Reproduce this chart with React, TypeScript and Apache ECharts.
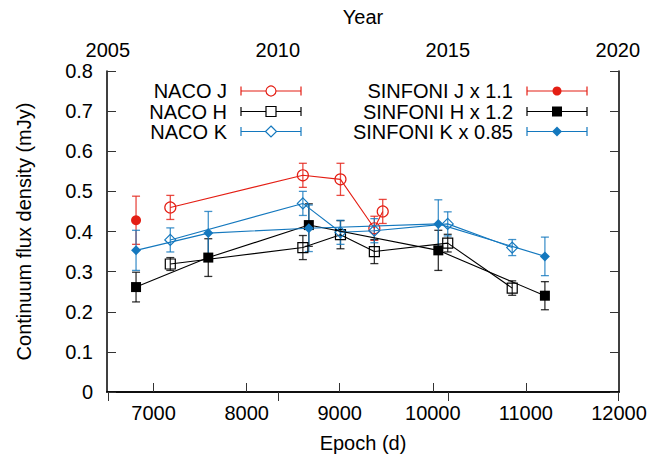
import React, { useEffect, useRef } from "react";
import * as echarts from "echarts";

// Epoch (days) of each observation, the plotted flux (mJy) and its 1-sigma error
const nacoJEpoch = [7180, 8604, 9008, 9372, 9462];
const nacoJFlux = [0.46, 0.54, 0.53, 0.408, 0.45];
const nacoJErr = [0.03, 0.03, 0.04, 0.03, 0.03];

const nacoHEpoch = [7180, 8604, 9008, 9372, 10160, 10853];
const nacoHFlux = [0.319, 0.36, 0.392, 0.35, 0.371, 0.259];
const nacoHErr = [0.016, 0.03, 0.035, 0.03, 0.022, 0.018];

const nacoKEpoch = [7180, 8604, 9008, 9372, 10160, 10853];
const nacoKFlux = [0.379, 0.47, 0.398, 0.402, 0.419, 0.36];
const nacoKErr = [0.03, 0.03, 0.03, 0.03, 0.03, 0.02];

const sinfJEpoch = [6812];
const sinfJFlux = [0.428];
const sinfJErr = [0.06];

const sinfHEpoch = [6812, 7588, 8668, 10059, 11204];
const sinfHFlux = [0.2615, 0.335, 0.416, 0.353, 0.24];
const sinfHErr = [0.037, 0.047, 0.053, 0.05, 0.035];

const sinfKEpoch = [6812, 7588, 8668, 10059, 11204];
const sinfKFlux = [0.353, 0.396, 0.408, 0.419, 0.338];
const sinfKErr = [0.05, 0.054, 0.058, 0.06, 0.048];

const epochTicks = [7000, 8000, 9000, 10000, 11000];
const epochLabels = [7000, 8000, 9000, 10000, 11000, 12000];
const yearTicks = [2005, 2010, 2015, 2020];

const EPOCH_MIN = 6500;
const EPOCH_MAX = 12000;
const YEAR_ZERO = 1987.18;
const toYear = (d: number) => YEAR_ZERO + d / 365.25;

const RED = "#e41e14";
const BLACK = "#000000";
const BLUE = "#1478be";
const FONT = "Liberation Sans, Arial, Helvetica, sans-serif";
const FS = 20;

type Spec = {
  name: string;
  epoch: number[];
  flux: number[];
  err: number[];
  color: string;
  symbol: string;
  size: number;
  open: boolean;
  z: number;
};

const specs: Spec[] = [
  { name: "NACO J", epoch: nacoJEpoch, flux: nacoJFlux, err: nacoJErr, color: RED, symbol: "circle", size: 11, open: true, z: 2 },
  { name: "NACO H", epoch: nacoHEpoch, flux: nacoHFlux, err: nacoHErr, color: BLACK, symbol: "rect", size: 10, open: true, z: 2 },
  { name: "NACO K", epoch: nacoKEpoch, flux: nacoKFlux, err: nacoKErr, color: BLUE, symbol: "diamond", size: 11, open: true, z: 2 },
  { name: "SINFONI J x 1.1", epoch: sinfJEpoch, flux: sinfJFlux, err: sinfJErr, color: RED, symbol: "circle", size: 10, open: false, z: 3 },
  { name: "SINFONI H x 1.2", epoch: sinfHEpoch, flux: sinfHFlux, err: sinfHErr, color: BLACK, symbol: "rect", size: 10, open: false, z: 3 },
  { name: "SINFONI K x 0.85", epoch: sinfKEpoch, flux: sinfKFlux, err: sinfKErr, color: BLUE, symbol: "diamond", size: 10, open: false, z: 3 },
];

function errorSeries(s: Spec) {
  return {
    type: "custom",
    name: s.name + " err",
    xAxisIndex: 0,
    yAxisIndex: 0,
    z: s.z,
    silent: true,
    data: s.epoch.map((e, i) => [e, s.flux[i] - s.err[i], s.flux[i] + s.err[i]]),
    encode: { x: 0, y: [1, 2] },
    renderItem: (_params: any, api: any) => {
      const lo = api.coord([api.value(0), api.value(1)]);
      const hi = api.coord([api.value(0), api.value(2)]);
      const w = 4;
      const style = { stroke: s.color, lineWidth: 1.3, opacity: 0.8 };
      return {
        type: "group",
        children: [
          { type: "line", shape: { x1: lo[0], y1: lo[1], x2: hi[0], y2: hi[1] }, style },
          { type: "line", shape: { x1: lo[0] - w, y1: lo[1], x2: lo[0] + w, y2: lo[1] }, style },
          { type: "line", shape: { x1: hi[0] - w, y1: hi[1], x2: hi[0] + w, y2: hi[1] }, style },
        ],
      };
    },
  };
}

function lineSeries(s: Spec) {
  return {
    type: "line",
    name: s.name,
    xAxisIndex: 0,
    yAxisIndex: 0,
    z: s.z + 1,
    data: s.epoch.map((e, i) => [e, s.flux[i]]),
    symbol: s.symbol,
    symbolSize: s.size,
    showAllSymbol: true,
    lineStyle: { color: s.color, width: 1.1 },
    itemStyle: s.open
      ? { color: "rgba(255,255,255,0)", borderColor: s.color, borderWidth: 1.2 }
      : { color: s.color, borderWidth: 0 },
    emphasis: { disabled: true },
  };
}

// Key: text on the left, a horizontal error-bar sample with the marker in its middle
function legendItem(s: Spec, textRight: number, sampleLeft: number, y: number) {
  const x0 = sampleLeft;
  const x1 = sampleLeft + 60;
  const xm = (x0 + x1) / 2;
  const stroke = { stroke: s.color, lineWidth: 1.2 };
  const markerStyle = s.open
    ? { fill: "#fff", stroke: s.color, lineWidth: 1.2 }
    : { fill: s.color, stroke: s.color, lineWidth: 0 };
  const r = s.size / 2;
  let marker: any;
  if (s.symbol === "circle") {
    marker = { type: "circle", shape: { cx: xm, cy: y, r: r - 0.5 }, style: markerStyle };
  } else if (s.symbol === "rect") {
    marker = { type: "rect", shape: { x: xm - r, y: y - r, width: 2 * r, height: 2 * r }, style: markerStyle };
  } else {
    marker = {
      type: "polygon",
      shape: { points: [[xm, y - r], [xm + r, y], [xm, y + r], [xm - r, y]] },
      style: markerStyle,
    };
  }
  return [
    {
      type: "text",
      x: textRight,
      y,
      style: { text: s.name, font: `${FS}px ${FONT}`, fill: "#000", align: "right", verticalAlign: "middle" },
    },
    { type: "line", shape: { x1: x0, y1: y, x2: x1, y2: y }, style: stroke },
    { type: "line", shape: { x1: x0, y1: y - 4.5, x2: x0, y2: y + 4.5 }, style: stroke },
    { type: "line", shape: { x1: x1, y1: y - 4.5, x2: x1, y2: y + 4.5 }, style: stroke },
    marker,
  ];
}

export default function App() {
  const ref = useRef<HTMLDivElement>(null);

  useEffect(() => {
    if (!ref.current) return;
    const chart = echarts.init(ref.current, null, { renderer: "svg" });

    const rows = [91, 111.5, 131.5];
    const legend: any[] = [];
    specs.slice(0, 3).forEach((s, i) => legend.push(...legendItem(s, 227, 241, rows[i])));
    specs.slice(3).forEach((s, i) => legend.push(...legendItem(s, 513, 527, rows[i])));

    const axisText = { color: "#000", fontSize: FS, fontFamily: FONT };
    const axisLine = { show: true, lineStyle: { color: "#000", width: 1.5 } };
    const tick = { inside: true, length: 9, lineStyle: { color: "#333", width: 1 } };
    const plain = (v: number) => String(Math.round(v));

    chart.setOption({
      animation: false,
      backgroundColor: "#fff",
      grid: { left: 107, right: 49, top: 71, bottom: 67, containLabel: false },
      xAxis: [
        {
          type: "value",
          position: "bottom",
          min: EPOCH_MIN,
          max: EPOCH_MAX,
          name: "Epoch (d)",
          nameLocation: "middle",
          nameGap: 41,
          nameTextStyle: axisText,
          axisLine,
          axisTick: { ...tick, customValues: epochTicks },
          axisLabel: { ...axisText, margin: 11, customValues: epochLabels, formatter: plain, showMinLabel: true, showMaxLabel: true },
          splitLine: { show: false },
        },
        {
          type: "value",
          position: "top",
          min: toYear(EPOCH_MIN),
          max: toYear(EPOCH_MAX),
          name: "Year",
          nameLocation: "middle",
          nameGap: 44,
          nameTextStyle: axisText,
          axisLine,
          axisTick: { ...tick, customValues: yearTicks },
          axisLabel: { ...axisText, margin: 11, customValues: yearTicks, formatter: plain, showMinLabel: true, showMaxLabel: true },
          splitLine: { show: false },
        },
      ],
      yAxis: [
        {
          type: "value",
          position: "left",
          min: 0,
          max: 0.8,
          interval: 0.1,
          name: "Continuum flux density (mJy)",
          nameLocation: "middle",
          nameGap: 73,
          nameRotate: 90,
          nameTextStyle: axisText,
          axisLine,
          axisTick: tick,
          axisLabel: { ...axisText, margin: 14, formatter: (v: number) => String(Math.round(v * 10) / 10) },
          splitLine: { show: false },
        },
        {
          type: "value",
          position: "right",
          min: 0,
          max: 0.8,
          interval: 0.1,
          axisLine,
          axisTick: tick,
          axisLabel: { show: false },
          splitLine: { show: false },
        },
      ],
      series: [
        ...specs.map(errorSeries),
        ...specs.map(lineSeries),
      ],
      graphic: legend,
    });

    return () => chart.dispose();
  }, []);

  return (
    <div
      ref={ref}
      style={{ position: "fixed", left: 0, top: 0, width: 668, height: 459, background: "#fff" }}
    />
  );
}
